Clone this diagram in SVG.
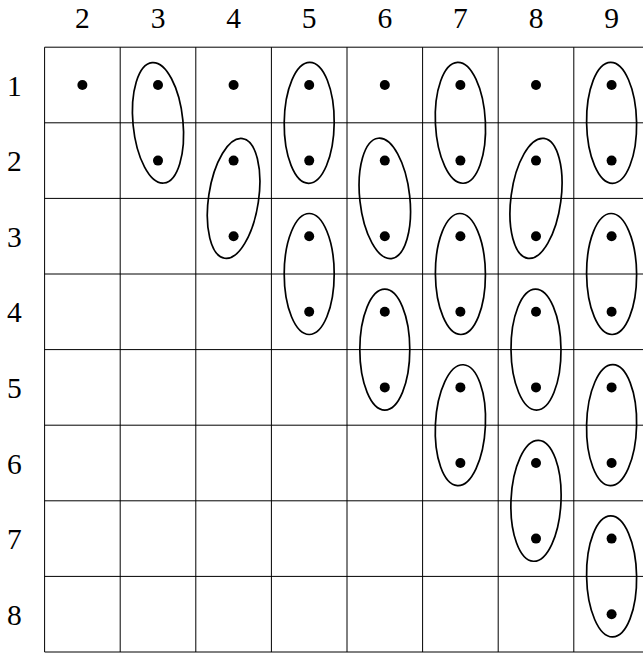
<svg xmlns="http://www.w3.org/2000/svg" width="643" height="655" viewBox="0 0 643 655">
<style>
.g{stroke:#000;stroke-width:1;fill:none}
.e{stroke:#000;stroke-width:1.7;fill:none}
.d{fill:#000}
.t{font-family:"Liberation Serif","Times New Roman",serif;font-size:29.5px;fill:#000;text-anchor:middle}
</style>
<rect width="643" height="655" fill="#fff"/>
<g id="labels">
<text class="t" x="82.4" y="28">2</text>
<text class="t" x="158" y="28">3</text>
<text class="t" x="233.6" y="28">4</text>
<text class="t" x="309.2" y="28">5</text>
<text class="t" x="384.8" y="28">6</text>
<text class="t" x="460.4" y="28">7</text>
<text class="t" x="536" y="28">8</text>
<text class="t" x="611.6" y="28">9</text>
<text class="t" x="14.3" y="95.5">1</text>
<text class="t" x="14.3" y="171.1">2</text>
<text class="t" x="14.3" y="246.7">3</text>
<text class="t" x="14.3" y="322.3">4</text>
<text class="t" x="14.3" y="397.9">5</text>
<text class="t" x="14.3" y="473.5">6</text>
<text class="t" x="14.3" y="549.1">7</text>
<text class="t" x="14.3" y="624.7">8</text>
</g>
<g id="grid" class="g">
<path d="M44.6 47.2H650M44.6 122.8H650M44.6 198.4H650M44.6 274H650M44.6 349.6H650M44.6 425.2H650M44.6 500.8H650M44.6 576.4H650M44.6 652H650"/>
<path d="M44.6 47.2V652M120.2 47.2V652M195.8 47.2V652M271.4 47.2V652M347 47.2V652M422.6 47.2V652M498.2 47.2V652M573.8 47.2V652M649.4 47.2V652"/>
</g>
<g id="dots" class="d">
<circle cx="82.4" cy="85" r="5"/>
<circle cx="158" cy="85" r="5"/><circle cx="158" cy="160.6" r="5"/>
<circle cx="233.6" cy="85" r="5"/><circle cx="233.6" cy="160.6" r="5"/><circle cx="233.6" cy="236.2" r="5"/>
<circle cx="309.2" cy="85" r="5"/><circle cx="309.2" cy="160.6" r="5"/><circle cx="309.2" cy="236.2" r="5"/><circle cx="309.2" cy="311.8" r="5"/>
<circle cx="384.8" cy="85" r="5"/><circle cx="384.8" cy="160.6" r="5"/><circle cx="384.8" cy="236.2" r="5"/><circle cx="384.8" cy="311.8" r="5"/><circle cx="384.8" cy="387.4" r="5"/>
<circle cx="460.4" cy="85" r="5"/><circle cx="460.4" cy="160.6" r="5"/><circle cx="460.4" cy="236.2" r="5"/><circle cx="460.4" cy="311.8" r="5"/><circle cx="460.4" cy="387.4" r="5"/><circle cx="460.4" cy="463" r="5"/>
<circle cx="536" cy="85" r="5"/><circle cx="536" cy="160.6" r="5"/><circle cx="536" cy="236.2" r="5"/><circle cx="536" cy="311.8" r="5"/><circle cx="536" cy="387.4" r="5"/><circle cx="536" cy="463" r="5"/><circle cx="536" cy="538.6" r="5"/>
<circle cx="611.6" cy="85" r="5"/><circle cx="611.6" cy="160.6" r="5"/><circle cx="611.6" cy="236.2" r="5"/><circle cx="611.6" cy="311.8" r="5"/><circle cx="611.6" cy="387.4" r="5"/><circle cx="611.6" cy="463" r="5"/><circle cx="611.6" cy="538.6" r="5"/><circle cx="611.6" cy="614.2" r="5"/>
</g>
<g id="ellipses" class="e">
<ellipse cx="158" cy="122.8" rx="25" ry="60.5" transform="rotate(-5.6 158 122.8)"/>
<ellipse cx="233.6" cy="198.4" rx="25" ry="60.5" transform="rotate(8.5 233.6 198.4)"/>
<ellipse cx="309.2" cy="122.8" rx="25" ry="60.5" transform="rotate(0.6 309.2 122.8)"/>
<ellipse cx="309.2" cy="274" rx="25" ry="60.5"/>
<ellipse cx="384.8" cy="198.4" rx="25" ry="60.5" transform="rotate(-6.3 384.8 198.4)"/>
<ellipse cx="384.8" cy="349.6" rx="25" ry="60.5"/>
<ellipse cx="460.4" cy="122.8" rx="25" ry="60.5" transform="rotate(-2.8 460.4 122.8)"/>
<ellipse cx="460.4" cy="274" rx="25" ry="60.5" transform="rotate(-0.5 460.4 274)"/>
<ellipse cx="460.4" cy="425.2" rx="25" ry="60.5" transform="rotate(2.8 460.4 425.2)"/>
<ellipse cx="536" cy="198.4" rx="25" ry="60.5" transform="rotate(7.6 536 198.4)"/>
<ellipse cx="536" cy="349.6" rx="25" ry="60.5" transform="rotate(-0.5 536 349.6)"/>
<ellipse cx="536" cy="500.8" rx="25" ry="60.5" transform="rotate(2.5 536 500.8)"/>
<ellipse cx="611.6" cy="122.8" rx="25" ry="60.5" transform="rotate(-1 611.6 122.8)"/>
<ellipse cx="611.6" cy="274" rx="25" ry="60.5" transform="rotate(-0.5 611.6 274)"/>
<ellipse cx="611.6" cy="425.2" rx="25" ry="60.5" transform="rotate(1.3 611.6 425.2)"/>
<ellipse cx="611.6" cy="576.4" rx="25" ry="60.5" transform="rotate(-1 611.6 576.4)"/>
</g>
</svg>
